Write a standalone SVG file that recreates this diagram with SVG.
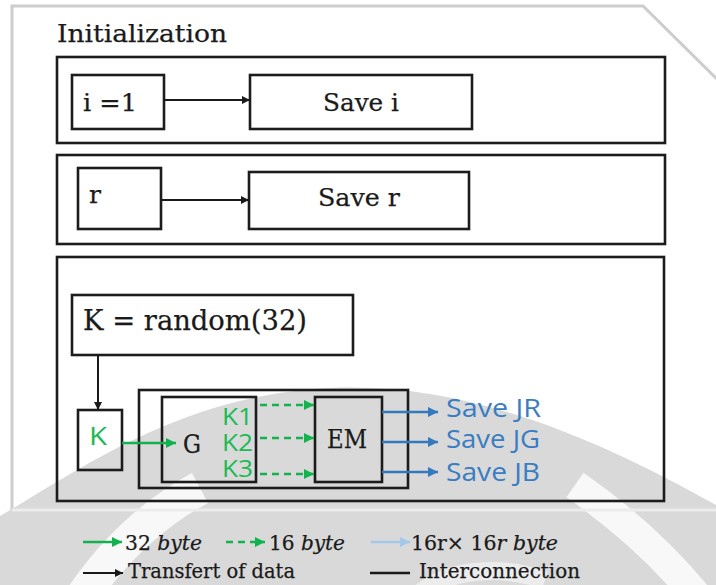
<svg xmlns="http://www.w3.org/2000/svg" width="716" height="585" viewBox="0 0 716 585">
  <defs>
    <style>
      .panel { fill: #ffffff; stroke: #cdcdcd; stroke-width: 3; }
      .box { fill: none; stroke: #1c1c1c; stroke-width: 2.6; }
      .serif { font-family: "DejaVu Serif", "Liberation Serif", serif; fill: #1a1a1a; stroke: #1a1a1a; stroke-width: 0.25; }
      .sans { font-family: "Open Sans", "Noto Sans", sans-serif; }
      .green { fill: #1db954; }
      .blue { fill: #3a7dc2; }
      .wire-black { stroke: #1a1a1a; stroke-width: 2; fill: none; }
      .wire-green { stroke: #12b24e; stroke-width: 2.5; fill: none; }
      .wire-green-dash { stroke: #12b24e; stroke-width: 2.5; fill: none; stroke-dasharray: 7 5; }
      .wire-blue { stroke: #3478bd; stroke-width: 2.5; fill: none; }
      .wire-lightblue { stroke: #a3c8ea; stroke-width: 2.5; fill: none; }
    </style>
    <marker id="ah-black" viewBox="0 0 10 10" refX="10" refY="5" markerWidth="4" markerHeight="4" orient="auto" markerUnits="strokeWidth">
      <path d="M0,0 L10,5 L0,10 Z" fill="#1a1a1a"/>
    </marker>
    <marker id="ah-green" viewBox="0 0 10 10" refX="10" refY="5" markerWidth="4" markerHeight="4" orient="auto" markerUnits="strokeWidth">
      <path d="M0,0 L10,5 L0,10 Z" fill="#12b24e"/>
    </marker>
    <marker id="ah-blue" viewBox="0 0 10 10" refX="10" refY="5" markerWidth="4" markerHeight="4" orient="auto" markerUnits="strokeWidth">
      <path d="M0,0 L10,5 L0,10 Z" fill="#3478bd"/>
    </marker>
    <marker id="ah-lightblue" viewBox="0 0 10 10" refX="10" refY="5" markerWidth="4" markerHeight="4" orient="auto" markerUnits="strokeWidth">
      <path d="M0,0 L10,5 L0,10 Z" fill="#a3c8ea"/>
    </marker>
  </defs>

  <!-- page background -->
  <rect x="0" y="0" width="716" height="585" fill="#ffffff"/>

  <!-- panel with clipped top-right corner -->
  <path class="panel" d="M12,6 L643,6 L718,80 L718,510 L12,510 Z"/>

  <!-- background emblem -->
  <g id="emblem">
    <path d="M0,585 L0,516 C80,470 180,395 330,388 C470,382 600,440 716,505 L716,585 Z" fill="#d9d9d9"/>
    <path d="M80,600 C110,555 150,515 200,488" stroke="#ffffff" stroke-width="34" fill="none" opacity="0.8"/>
    <path d="M575,485 C625,520 668,560 700,600" stroke="#ffffff" stroke-width="30" fill="none" opacity="0.8"/>
    <path d="M412,600 C440,572 490,562 545,580" stroke="#ffffff" stroke-width="18" fill="none" opacity="0.5"/>
    <path d="M12,510 L716,510" stroke="#ececec" stroke-width="3"/>
  </g>

  <text class="serif" x="57" y="42" font-size="25" textLength="170" lengthAdjust="spacingAndGlyphs">Initialization</text>

  <!-- stage frames -->
  <g id="stage-i">
    <rect class="box" x="57" y="57" width="608" height="86"/>
  </g>
  <g id="stage-r">
    <rect class="box" x="57" y="155" width="608" height="89"/>
  </g>
  <g id="stage-k">
    <rect class="box" x="57" y="257" width="607" height="244"/>
  </g>

  <!-- nodes -->
  <g id="node-i1">
    <rect class="box" x="72" y="75" width="92" height="54"/>
    <text class="serif" x="83" y="111" font-size="25" textLength="54" lengthAdjust="spacingAndGlyphs">i =1</text>
  </g>
  <g id="node-save-i">
    <rect class="box" x="250" y="75" width="222" height="54"/>
    <text class="serif" x="323" y="111" font-size="25" textLength="76" lengthAdjust="spacingAndGlyphs">Save i</text>
  </g>
  <g id="node-r">
    <rect class="box" x="78" y="168" width="83" height="61"/>
    <text class="serif" x="89" y="203" font-size="25" textLength="12" lengthAdjust="spacingAndGlyphs">r</text>
  </g>
  <g id="node-save-r">
    <rect class="box" x="249" y="172" width="220" height="57"/>
    <text class="serif" x="318" y="206" font-size="25" textLength="82" lengthAdjust="spacingAndGlyphs">Save r</text>
  </g>
  <g id="node-random">
    <rect class="box" x="72" y="295" width="281" height="60"/>
    <text class="serif" x="83" y="330" font-size="27" textLength="224" lengthAdjust="spacingAndGlyphs">K = random(32)</text>
  </g>
  <g id="node-k">
    <rect class="box" x="78" y="410" width="44" height="60"/>
    <text class="sans green" x="89" y="445" font-size="25" textLength="18" lengthAdjust="spacingAndGlyphs">K</text>
  </g>
  <g id="node-core">
    <rect class="box" x="139" y="390" width="269" height="98"/>
  </g>
  <g id="node-g">
    <rect class="box" x="162" y="397" width="94" height="85"/>
    <text class="serif" x="183" y="453" font-size="26" textLength="18" lengthAdjust="spacingAndGlyphs">G</text>
    <text class="sans green" x="253" y="425" font-size="23" text-anchor="end" textLength="31" lengthAdjust="spacingAndGlyphs">K1</text>
    <text class="sans green" x="253" y="451" font-size="23" text-anchor="end" textLength="31" lengthAdjust="spacingAndGlyphs">K2</text>
    <text class="sans green" x="253" y="477" font-size="23" text-anchor="end" textLength="31" lengthAdjust="spacingAndGlyphs">K3</text>
  </g>
  <g id="node-em">
    <rect class="box" x="315" y="397" width="67" height="85"/>
    <text class="serif" x="327" y="448" font-size="26" textLength="40" lengthAdjust="spacingAndGlyphs">EM</text>
  </g>
  <g id="node-outputs">
    <text class="sans blue" x="446" y="417" font-size="25" textLength="95" lengthAdjust="spacingAndGlyphs">Save JR</text>
    <text class="sans blue" x="446" y="448" font-size="25" textLength="94" lengthAdjust="spacingAndGlyphs">Save JG</text>
    <text class="sans blue" x="446" y="481" font-size="25" textLength="94" lengthAdjust="spacingAndGlyphs">Save JB</text>
  </g>

  <!-- connectors -->
  <g id="connectors">
    <line class="wire-black" x1="164" y1="100" x2="250" y2="100" marker-end="url(#ah-black)"/>
    <line class="wire-black" x1="161" y1="200" x2="249" y2="200" marker-end="url(#ah-black)"/>
    <line class="wire-black" x1="98" y1="355" x2="98" y2="410" marker-end="url(#ah-black)"/>
    <line class="wire-green" x1="122" y1="443" x2="176" y2="443" marker-end="url(#ah-green)"/>
    <line class="wire-green-dash" x1="260" y1="405" x2="314" y2="405" marker-end="url(#ah-green)"/>
    <line class="wire-green-dash" x1="260" y1="438" x2="314" y2="438" marker-end="url(#ah-green)"/>
    <line class="wire-green-dash" x1="260" y1="474" x2="314" y2="474" marker-end="url(#ah-green)"/>
    <line class="wire-blue" x1="382" y1="412" x2="438" y2="412" marker-end="url(#ah-blue)"/>
    <line class="wire-blue" x1="382" y1="442" x2="438" y2="442" marker-end="url(#ah-blue)"/>
    <line class="wire-blue" x1="382" y1="472" x2="438" y2="472" marker-end="url(#ah-blue)"/>
  </g>

  <!-- legend -->
  <g id="legend">
    <line class="wire-green" x1="83" y1="542" x2="122" y2="542" marker-end="url(#ah-green)"/>
    <text class="serif" x="125" y="550" font-size="20" textLength="77" lengthAdjust="spacingAndGlyphs">32 <tspan font-style="italic">byte</tspan></text>
    <line class="wire-green-dash" x1="226" y1="542" x2="265" y2="542" marker-end="url(#ah-green)"/>
    <text class="serif" x="269" y="550" font-size="20" textLength="76" lengthAdjust="spacingAndGlyphs">16 <tspan font-style="italic">byte</tspan></text>
    <line class="wire-lightblue" x1="371" y1="542" x2="410" y2="542" marker-end="url(#ah-lightblue)"/>
    <text class="serif" x="411" y="550" font-size="20" textLength="147" lengthAdjust="spacingAndGlyphs">16r× 16<tspan font-style="italic">r byte</tspan></text>
    <line class="wire-black" x1="83" y1="573" x2="123" y2="573" marker-end="url(#ah-black)"/>
    <text class="serif" x="128" y="578" font-size="20" textLength="167" lengthAdjust="spacingAndGlyphs">Transfert of data</text>
    <line x1="370" y1="573" x2="410" y2="573" stroke="#1a1a1a" stroke-width="2.5"/>
    <text class="serif" x="419" y="578" font-size="20" textLength="161" lengthAdjust="spacingAndGlyphs">Interconnection</text>
  </g>
</svg>
